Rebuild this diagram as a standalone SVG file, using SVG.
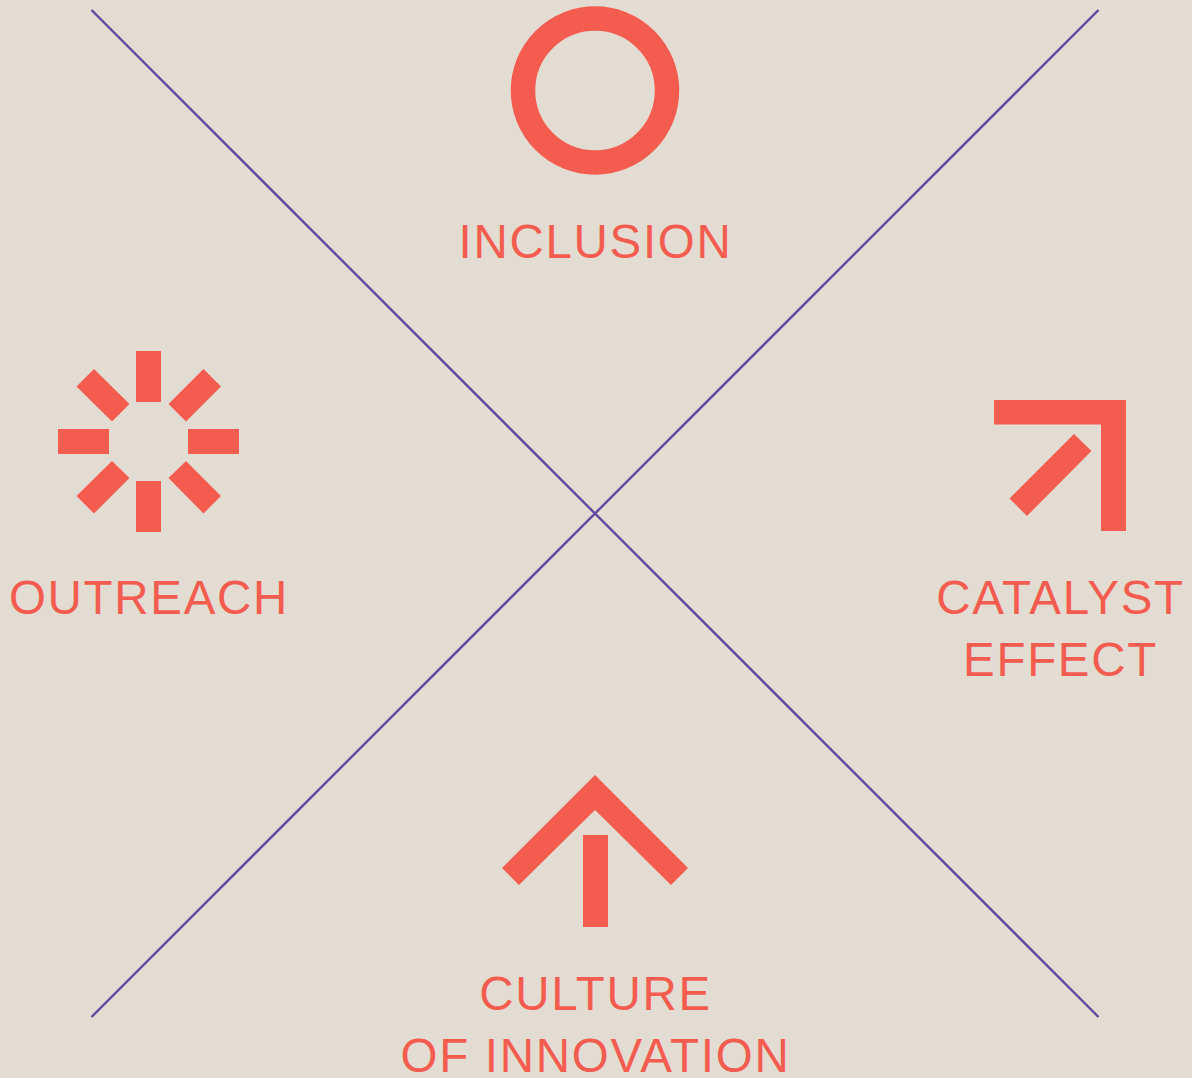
<svg xmlns="http://www.w3.org/2000/svg" width="1192" height="1078" viewBox="0 0 1192 1078">
<style>
.bg{fill:#e3dcd2}
.c{stroke:#5b4a9e;stroke-width:2.4;fill:none}
.i{fill:#f45c4f}
.t{font-family:"Liberation Sans",Arial,sans-serif;font-size:47.500px;letter-spacing:1.700px;fill:#f45c4f;text-anchor:middle}
</style>
<rect class="bg" width="1192" height="1078"/>
<g id="connectors">
<line class="c" x1="91.500" y1="10" x2="1098.500" y2="1017"/>
<line class="c" x1="1098.500" y1="10" x2="91.500" y2="1017"/>
</g>
<g id="inclusion">
<circle cx="595" cy="90.500" r="72" fill="none" stroke="#f45c4f" stroke-width="24.500"/>
<text class="t" x="595.500" y="258">INCLUSION</text>
</g>
<g id="outreach">
<rect class="i" x="136" y="351" width="25" height="51"/>
<rect class="i" x="136" y="481" width="25" height="51"/>
<rect class="i" x="58" y="429" width="51" height="25"/>
<rect class="i" x="188" y="429" width="51" height="25"/>
<polygon class="i" points="94,369 129.500,404 112,421.500 76.500,386.500"/>
<polygon class="i" points="203.500,369 221,386.500 186,421.500 168.500,404"/>
<polygon class="i" points="112,461 129.500,478 94,513.500 76.500,496"/>
<polygon class="i" points="186,461 221,496 203.500,513.500 168.500,478"/>
<text class="t" x="149" y="614">OUTREACH</text>
</g>
<g id="catalyst-effect">
<polygon class="i" points="994,400 1126,400 1126,531 1101,531 1101,424.500 994,424.500"/>
<polygon class="i" points="1074,434 1091.500,451 1027,516 1009.500,498.500"/>
<text class="t" x="1060.500" y="614">CATALYST</text>
<text class="t" x="1060.500" y="676">EFFECT</text>
</g>
<g id="culture-of-innovation">
<polygon class="i" points="595,775 688,868 671,885 595,810 519,885 502,868"/>
<rect class="i" x="583" y="835" width="25" height="92"/>
<text class="t" x="595.500" y="1010">CULTURE</text>
<text class="t" x="595.500" y="1072">OF INNOVATION</text>
</g>
</svg>
